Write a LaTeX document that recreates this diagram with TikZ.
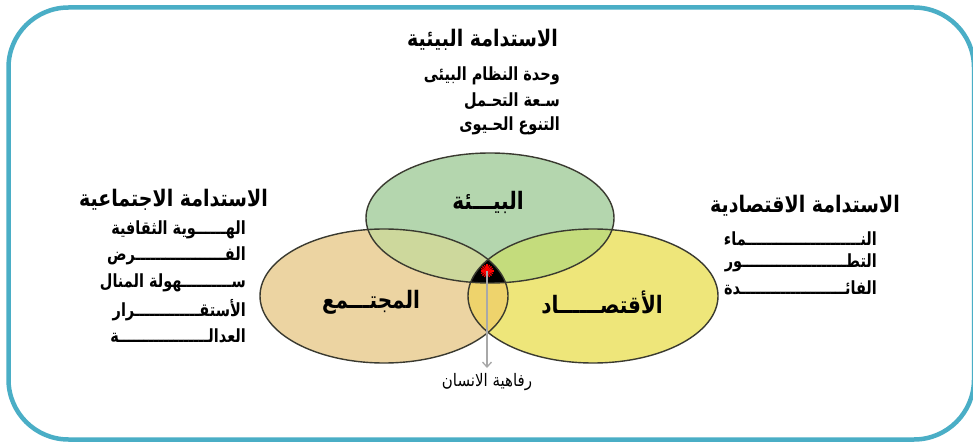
\documentclass[tikz,border=0pt]{standalone}
\usepackage{fontspec}
\usepackage{graphicx}
\usetikzlibrary{arrows.meta}
\TeXXeTstate=1
\newfontfamily\arabicfont[Script=Arabic]{DejaVu Sans}
\definecolor{framecol}{HTML}{4AAEC6}
\definecolor{envcol}{HTML}{B4D6AE}
\definecolor{soccol}{HTML}{ECD4A2}
\definecolor{ecocol}{HTML}{EEE67A}
\definecolor{envsoc}{HTML}{CDD89C}
\definecolor{enveco}{HTML}{C4DC7C}
\definecolor{soceco}{HTML}{EED36C}
\definecolor{outline}{HTML}{3A3A30}
\definecolor{arrowgray}{HTML}{A8A8A8}
\newcommand{\artxt}[2][1.25]{\scalebox{1}[#1]{\beginR #2\endR}}
\def\T{ـ}
\def\TT{\T\T}
\def\TF{\T\T\T\T}
\tikzset{
  ttl/.style={inner sep=0pt, anchor=east, font=\arabicfont\bfseries\fontsize{19}{22}\selectfont},
  itm/.style={inner sep=0pt, anchor=east, font=\arabicfont\bfseries\fontsize{14.5}{17}\selectfont},
  circlbl/.style={inner sep=0pt, font=\arabicfont\bfseries\fontsize{20}{24}\selectfont},
  lbl/.style={inner sep=0pt, font=\arabicfont\fontsize{15}{18}\selectfont},
  ring/.style={draw=outline, line width=1.4pt},
}
\newcommand{\envpath}{(490,218) ellipse [x radius=124, y radius=65]}
\newcommand{\socpath}{(384,296) ellipse [x radius=124, y radius=67]}
\newcommand{\ecopath}{(593,296) ellipse [x radius=125, y radius=67]}
\begin{document}
\begin{tikzpicture}[x=1pt,y=-1pt]
\useasboundingbox (0,0) rectangle (973,443);
\fill[white] (0,0) rectangle (973,443);
% frame
\draw[framecol, line width=4.5pt, rounded corners=60pt] (8.5,7.5) rectangle (974,439.5);
% base fills
\fill[envcol] \envpath;
\fill[soccol] \socpath;
\fill[ecocol] \ecopath;
% pairwise overlaps
\begin{scope}\clip \envpath; \fill[envsoc] \socpath; \end{scope}
\begin{scope}\clip \envpath; \fill[enveco] \ecopath; \end{scope}
\begin{scope}\clip \socpath; \fill[soceco] \ecopath; \end{scope}
\begin{scope}\clip \envpath; \clip \socpath; \fill[black] \ecopath; \end{scope}
% outlines
\draw[ring] \socpath;
\draw[ring] \ecopath;
\draw[ring] \envpath;
% circle labels
\node[circlbl] (env) at (488,202) {\artxt[1.2]{البيـــئة}};
\node[circlbl] (soc) at (371,302) {\artxt[1.2]{المجتـــمع}};
\node[circlbl] (eco) at (602,302) {\artxt[1.2]{الأقتص\TF ــاد}};
% star and arrow
\node[inner sep=0pt, minimum size=14pt] (star) at (487,271) {};
\foreach \a in {0,22.5,...,337.5}
  \draw[red, line width=1.1pt] (star.center) -- +(\a:6.5);
\coordinate (tip) at (487,368);
\draw[arrowgray, line width=1.3pt, -{Straight Barb[length=5pt,width=9pt]}] (star.center) -- (tip);
\node[lbl] (wellbeing) at (487,382) {\artxt[1.15]{رفاهية الانسان}};
% top block
\node[ttl] (t0) at (558,40) {\artxt[1.2]{الاستدامة البيئية}};
\node[itm] (t1) at (560,76) {\artxt{وحدة النظام البيئى}};
\node[itm] (t2) at (560,101) {\artxt{سـعة التحـمل}};
\node[itm] (t3) at (560,126) {\artxt{التنوع الحـيوى}};
% left block
\node[ttl] (l0) at (268,200) {\artxt[1.2]{الاستدامة الاجتماعية}};
\node[itm] (l1) at (246,230) {\artxt{اله\TF\TT وية الثقافية}};
\node[itm] (l2) at (246,256) {\artxt{الف\TF\TF\TF\TF\TT رض}};
\node[itm] (l3) at (246,283) {\artxt{س\TF\TF\TT هولة المنال}};
\node[itm] (l4) at (246,310) {\artxt{الأستق\TF\TF\TF\T رار}};
\node[itm] (l5) at (246,336) {\artxt{العدال\TF\TF\TF\TF\TT ة}};
% right block
\node[ttl] (r0) at (900,206) {\artxt[1.2]{الاستدامة الاقتصادية}};
\node[itm] (r1) at (877,239) {\artxt{الن\TF\TF\TF\TF\TF\TT\T ماء}};
\node[itm] (r2) at (877,263) {\artxt{التط\TF\TF\TF\TF\TF\T ور}};
\node[itm] (r3) at (877,288) {\artxt{الفائ\TF\TF\TF\TF\TF\T دة}};
\end{tikzpicture}
\end{document}
